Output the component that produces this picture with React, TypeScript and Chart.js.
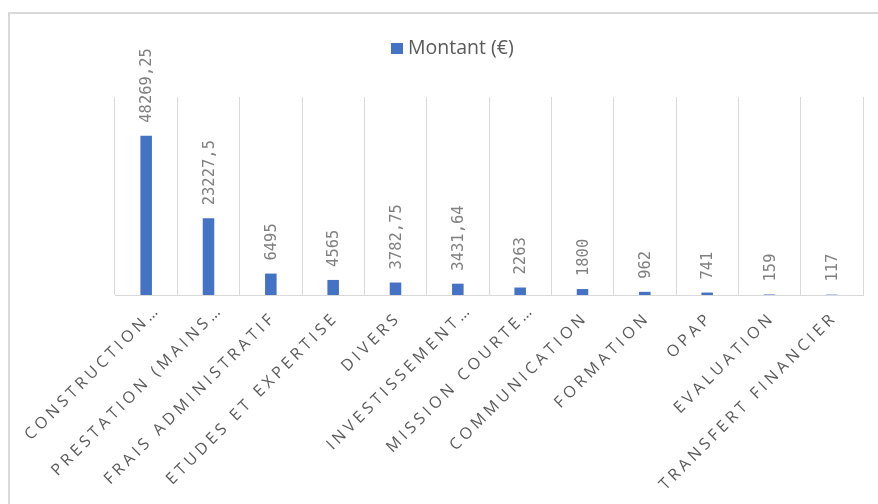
import React, { useEffect, useRef } from "react";
import { Chart, registerables } from "chart.js";

Chart.register(...registerables);

const categories = [
  "CONSTRUCTION…",
  "PRESTATION (MAINS…",
  "FRAIS ADMINISTRATIF",
  "ETUDES ET EXPERTISE",
  "DIVERS",
  "INVESTISSEMENT…",
  "MISSION COURTE…",
  "COMMUNICATION",
  "FORMATION",
  "OPAP",
  "EVALUATION",
  "TRANSFERT FINANCIER",
];

const montants = [48269.25, 23227.5, 6495, 4565, 3782.75, 3431.64, 2263, 1800, 962, 741, 159, 117];

const seriesLabel = "Montant (€)";
const yMin = 0;
const yMax = 60000;

const BAR_COLOR = "#4472C4";
const GRID_COLOR = "#d9d9d9";
const TEXT_COLOR = "#595959";
const VALUE_COLOR = "#808080";

const fmt = (v: number) => String(v).replace(".", ",");

const decorPlugin = {
  id: "decor",
  beforeDraw(chart: any) {
    const ctx = chart.ctx;
    ctx.save();
    ctx.strokeStyle = GRID_COLOR;
    ctx.lineWidth = 2;
    ctx.strokeRect(9, 13, 1200, 1200);
    // legend
    ctx.fillStyle = BAR_COLOR;
    ctx.fillRect(391, 43, 12, 11);
    ctx.fillStyle = TEXT_COLOR;
    ctx.font = '19.5px "Open Sans"';
    ctx.textAlign = "left";
    ctx.textBaseline = "middle";
    ctx.fillText(seriesLabel, 408, 48.5);
    ctx.restore();
  },
  afterDatasetsDraw(chart: any) {
    const ctx = chart.ctx;
    const meta = chart.getDatasetMeta(0);
    const xScale = chart.scales.x;
    ctx.save();
    // value labels
    ctx.fillStyle = VALUE_COLOR;
    ctx.font = '15.5px "DejaVu Sans Mono"';
    ctx.textAlign = "left";
    ctx.textBaseline = "middle";
    meta.data.forEach((el: any, i: number) => {
      ctx.save();
      ctx.translate(el.x + 1, el.y - 13);
      ctx.rotate(-Math.PI / 2);
      ctx.fillText(fmt(montants[i]), 0, 0);
      ctx.restore();
    });
    // category labels
    ctx.fillStyle = TEXT_COLOR;
    ctx.font = '16px "Open Sans"';
    (ctx as any).letterSpacing = "3.9px";
    ctx.textAlign = "right";
    ctx.textBaseline = "middle";
    categories.forEach((c, i) => {
      const x = xScale.getPixelForValue(i);
      const truncated = c.endsWith("…");
      ctx.save();
      ctx.translate(x + 3 + (truncated ? 9 : 0), xScale.bottom + 20 - (truncated ? 8 : 0));
      ctx.rotate(-Math.PI / 4);
      ctx.fillText(c, 0, 0);
      ctx.restore();
    });
    ctx.restore();
  },
};

export default function App() {
  const ref = useRef<HTMLCanvasElement | null>(null);
  useEffect(() => {
    if (!ref.current) return;
    const chart = new Chart(ref.current, {
      type: "bar",
      data: {
        labels: categories,
        datasets: [
          {
            label: seriesLabel,
            data: montants,
            backgroundColor: BAR_COLOR,
            borderWidth: 0,
            barPercentage: 0.185,
            categoryPercentage: 1,
          },
        ],
      },
      options: {
        animation: false,
        responsive: false,
        layout: { padding: { left: 115, right: 15, top: 97, bottom: 209 } },
        plugins: { legend: { display: false }, tooltip: { enabled: false } },
        scales: {
          x: {
            display: true,
            grid: { display: true, color: GRID_COLOR, lineWidth: 1, drawTicks: false, offset: true },
            border: { display: true, color: GRID_COLOR, width: 1 },
            ticks: { display: false },
          },
          y: {
            display: false,
            min: yMin,
            max: yMax,
          },
        },
      },
      plugins: [decorPlugin],
    });
    return () => chart.destroy();
  }, []);
  return (
    <div style={{ position: "fixed", left: 0, top: 0, width: 878, height: 504, background: "#fff" }}>
      <canvas ref={ref} width={878} height={504} />
    </div>
  );
}
